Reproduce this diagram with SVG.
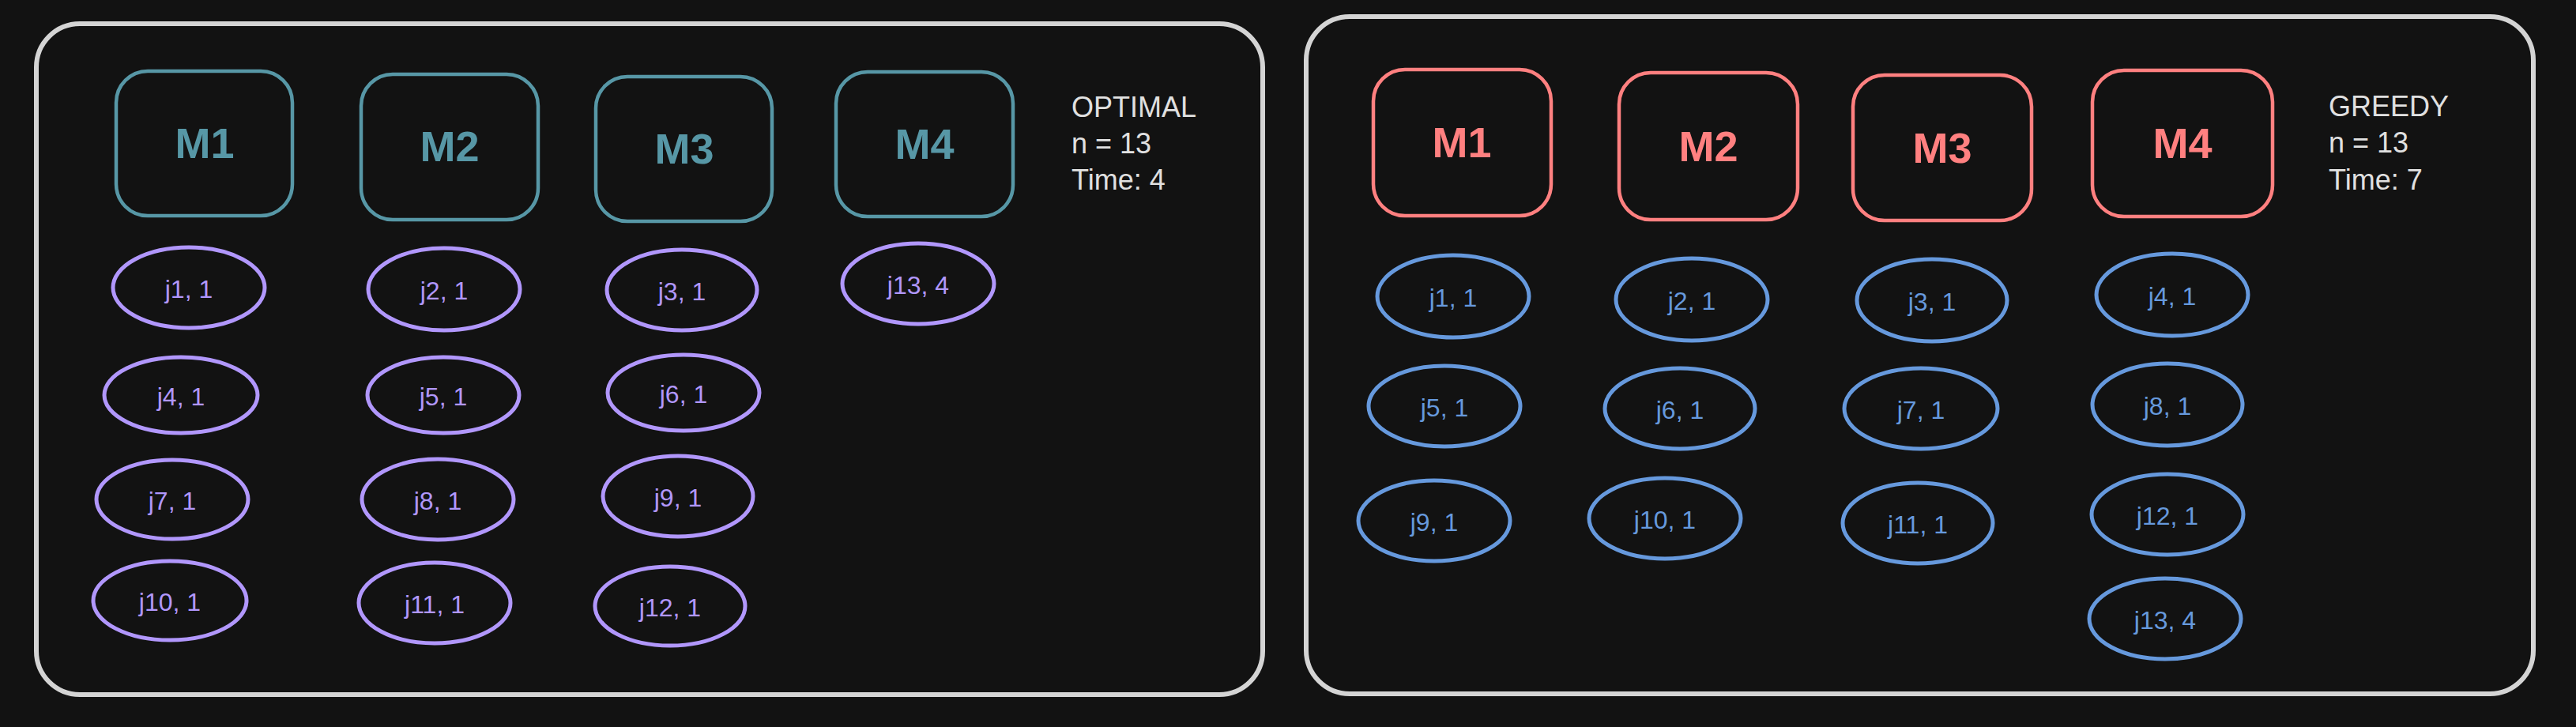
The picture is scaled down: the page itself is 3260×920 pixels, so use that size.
<svg xmlns="http://www.w3.org/2000/svg" width="3260" height="920" viewBox="0 0 3260 920">
<style>
.frame{fill:#121212;stroke:#d4d4d4;stroke-width:6}
.mt{fill:none;stroke:#5797a6;stroke-width:4.5}
.mr{fill:none;stroke:#ff8080;stroke-width:4.5}
.ep{fill:none;stroke:#b197fc;stroke-width:5}
.eb{fill:none;stroke:#6699dd;stroke-width:5}
.lbl{font-family:"Liberation Sans",Arial,sans-serif;text-anchor:middle;dominant-baseline:central}
.tm{font-size:54px;font-weight:bold;fill:#5797a6}
.rm{font-size:54px;font-weight:bold;fill:#ff8080}
.tp{font-size:32px;fill:#b197fc}
.tb{font-size:32px;fill:#6699dd}
.info{font-family:"Liberation Sans",Arial,sans-serif;font-size:36px;fill:#e0e0e0}
</style>
<rect width="3260" height="920" fill="#121212"/>
<g id="frame-optimal"><rect class="frame" x="46" y="30" width="1552" height="849" rx="55"/></g>
<g id="frame-greedy"><rect class="frame" x="1653" y="21" width="1553" height="857" rx="55"/></g>

<g id="opt-M1"><rect class="mt" x="147" y="90" width="223" height="183" rx="40"/><text class="lbl tm" x="259" y="181">M1</text></g>
<g id="opt-M2"><rect class="mt" x="457" y="94" width="224" height="184" rx="40"/><text class="lbl tm" x="569" y="185">M2</text></g>
<g id="opt-M3"><rect class="mt" x="754" y="97" width="223" height="183" rx="40"/><text class="lbl tm" x="866" y="188">M3</text></g>
<g id="opt-M4"><rect class="mt" x="1058" y="91" width="224" height="183" rx="40"/><text class="lbl tm" x="1170" y="182">M4</text></g>
<g id="opt-info"><text class="info" x="1356" y="148">OPTIMAL</text><text class="info" x="1356" y="194">n = 13</text><text class="info" x="1356" y="240">Time: 4</text></g>

<g id="opt-j1"><ellipse class="ep" cx="239" cy="364" rx="96" ry="51"/><text class="lbl tp" x="239" y="366">j1, 1</text></g>
<g id="opt-j2"><ellipse class="ep" cx="562" cy="366" rx="96" ry="52"/><text class="lbl tp" x="562" y="368">j2, 1</text></g>
<g id="opt-j3"><ellipse class="ep" cx="863" cy="367" rx="95" ry="51"/><text class="lbl tp" x="863" y="369">j3, 1</text></g>
<g id="opt-j13"><ellipse class="ep" cx="1162" cy="359" rx="96" ry="51"/><text class="lbl tp" x="1162" y="361">j13, 4</text></g>
<g id="opt-j4"><ellipse class="ep" cx="229" cy="500" rx="97" ry="48"/><text class="lbl tp" x="229" y="502">j4, 1</text></g>
<g id="opt-j5"><ellipse class="ep" cx="561" cy="500" rx="96" ry="48"/><text class="lbl tp" x="561" y="502">j5, 1</text></g>
<g id="opt-j6"><ellipse class="ep" cx="865" cy="497" rx="96" ry="48"/><text class="lbl tp" x="865" y="499">j6, 1</text></g>
<g id="opt-j7"><ellipse class="ep" cx="218" cy="632" rx="96" ry="50"/><text class="lbl tp" x="218" y="634">j7, 1</text></g>
<g id="opt-j8"><ellipse class="ep" cx="554" cy="632" rx="96" ry="51"/><text class="lbl tp" x="554" y="634">j8, 1</text></g>
<g id="opt-j9"><ellipse class="ep" cx="858" cy="628" rx="95" ry="51"/><text class="lbl tp" x="858" y="630">j9, 1</text></g>
<g id="opt-j10"><ellipse class="ep" cx="215" cy="760" rx="97" ry="50"/><text class="lbl tp" x="215" y="762">j10, 1</text></g>
<g id="opt-j11"><ellipse class="ep" cx="550" cy="763" rx="96" ry="51"/><text class="lbl tp" x="550" y="765">j11, 1</text></g>
<g id="opt-j12"><ellipse class="ep" cx="848" cy="767" rx="95" ry="50"/><text class="lbl tp" x="848" y="769">j12, 1</text></g>

<g id="gr-M1"><rect class="mr" x="1738" y="88" width="225" height="185" rx="40"/><text class="lbl rm" x="1850" y="180">M1</text></g>
<g id="gr-M2"><rect class="mr" x="2049" y="92" width="226" height="186" rx="40"/><text class="lbl rm" x="2162" y="185">M2</text></g>
<g id="gr-M3"><rect class="mr" x="2345" y="95" width="226" height="184" rx="40"/><text class="lbl rm" x="2458" y="187">M3</text></g>
<g id="gr-M4"><rect class="mr" x="2648" y="89" width="228" height="185" rx="40"/><text class="lbl rm" x="2762" y="181">M4</text></g>
<g id="gr-info"><text class="info" x="2947" y="147">GREEDY</text><text class="info" x="2947" y="193">n = 13</text><text class="info" x="2947" y="240">Time: 7</text></g>

<g id="gr-j1"><ellipse class="eb" cx="1839" cy="375" rx="96" ry="52"/><text class="lbl tb" x="1839" y="377">j1, 1</text></g>
<g id="gr-j2"><ellipse class="eb" cx="2141" cy="379" rx="96" ry="52"/><text class="lbl tb" x="2141" y="381">j2, 1</text></g>
<g id="gr-j3"><ellipse class="eb" cx="2445" cy="380" rx="95" ry="52"/><text class="lbl tb" x="2445" y="382">j3, 1</text></g>
<g id="gr-j4"><ellipse class="eb" cx="2749" cy="373" rx="96" ry="52"/><text class="lbl tb" x="2749" y="375">j4, 1</text></g>
<g id="gr-j5"><ellipse class="eb" cx="1828" cy="514" rx="96" ry="51"/><text class="lbl tb" x="1828" y="516">j5, 1</text></g>
<g id="gr-j6"><ellipse class="eb" cx="2126" cy="517" rx="95" ry="51"/><text class="lbl tb" x="2126" y="519">j6, 1</text></g>
<g id="gr-j7"><ellipse class="eb" cx="2431" cy="517" rx="97" ry="51"/><text class="lbl tb" x="2431" y="519">j7, 1</text></g>
<g id="gr-j8"><ellipse class="eb" cx="2743" cy="512" rx="95" ry="52"/><text class="lbl tb" x="2743" y="514">j8, 1</text></g>
<g id="gr-j9"><ellipse class="eb" cx="1815" cy="659" rx="96" ry="51"/><text class="lbl tb" x="1815" y="661">j9, 1</text></g>
<g id="gr-j10"><ellipse class="eb" cx="2107" cy="656" rx="96" ry="51"/><text class="lbl tb" x="2107" y="658">j10, 1</text></g>
<g id="gr-j11"><ellipse class="eb" cx="2427" cy="662" rx="95" ry="51"/><text class="lbl tb" x="2427" y="664">j11, 1</text></g>
<g id="gr-j12"><ellipse class="eb" cx="2743" cy="651" rx="96" ry="51"/><text class="lbl tb" x="2743" y="653">j12, 1</text></g>
<g id="gr-j13"><ellipse class="eb" cx="2740" cy="783" rx="96" ry="51"/><text class="lbl tb" x="2740" y="785">j13, 4</text></g>

<g id="connectors"></g>
</svg>
